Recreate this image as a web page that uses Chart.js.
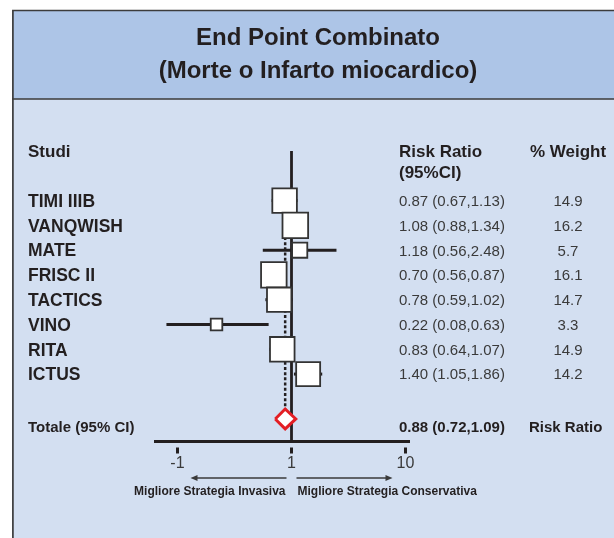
<!DOCTYPE html>
<html>
<head>
<meta charset="utf-8">
<script src="https://cdn.jsdelivr.net/npm/chart.js@4.4.1/dist/chart.umd.min.js"></script>
<style>
  html, body { margin: 0; padding: 0; background: #ffffff; }
  canvas { display: block; }
</style>
</head>
<body>
<canvas id="forest" width="614" height="538"></canvas>
<script>
// Studies in the meta-analysis
const studies   = ['TIMI IIIB', 'VANQWISH', 'MATE', 'FRISC II', 'TACTICS', 'VINO', 'RITA', 'ICTUS'];
const riskRatio = [0.87, 1.08, 1.18, 0.70, 0.78, 0.22, 0.83, 1.40];
const ciLow     = [0.67, 0.88, 0.56, 0.56, 0.59, 0.08, 0.64, 1.05];
const ciHigh    = [1.13, 1.34, 2.48, 0.87, 1.02, 0.63, 1.07, 1.86];
const weights   = [14.9, 16.2, 5.7, 16.1, 14.7, 3.3, 14.9, 14.2];

// Pooled estimate
const pooledRR   = 0.88;
const pooledLow  = 0.72;
const pooledHigh = 1.09;

// Log axis ticks and their printed labels
const axisTicks  = [0.1, 1, 10];
const tickLabels = ['-1', '1', '10'];

// Axis ranges (x in risk ratio, y in row units; rows 0..7 are the studies)
const X_MIN = 0.0635, X_MAX = 10.73;
const Y_TOP = -2, Y_BOTTOM = 9.7;
const HEADER_ROW = -2, SUBHEADER_ROW = -1.15, DIAMOND_ROW = 8.81, TOTAL_ROW = 9.13;

const INK = '#231f20';
const GREY_INK = '#3a3a3a';
const FONT = '"Liberation Sans", Arial, Helvetica, sans-serif';
const X_AXIS_HEIGHT = 44;

const datasets = [];

// Study squares, area scaled with the weight
datasets.push({
  type: 'scatter',
  data: riskRatio.map((v, i) => ({ x: v, y: i })),
  pointStyle: 'rect',
  pointRadius: weights.map(w => 4.5 * Math.sqrt(w)),
  pointHoverRadius: weights.map(w => 4.5 * Math.sqrt(w)),
  backgroundColor: '#ffffff',
  borderColor: '#333333',
  borderWidth: 1.8,
  order: 0
});

// Pooled diamond spanning the pooled confidence interval
datasets.push({
  type: 'line',
  data: [
    { x: pooledLow,  y: DIAMOND_ROW },
    { x: pooledRR,   y: DIAMOND_ROW - 0.4 },
    { x: pooledHigh, y: DIAMOND_ROW },
    { x: pooledRR,   y: DIAMOND_ROW + 0.4 },
    { x: pooledLow,  y: DIAMOND_ROW }
  ],
  fill: 'shape',
  backgroundColor: '#ffffff',
  borderColor: '#e31e24',
  borderWidth: 3,
  borderJoinStyle: 'miter',
  tension: 0,
  pointRadius: 0,
  order: 0
});

// Confidence interval whiskers
studies.forEach((s, i) => {
  datasets.push({
    type: 'line',
    data: [{ x: ciLow[i], y: i }, { x: ciHigh[i], y: i }],
    borderColor: '#231f20',
    borderWidth: 3,
    pointRadius: 0,
    fill: false,
    order: 1
  });
});

// Line of no effect
datasets.push({
  type: 'line',
  data: [{ x: 1, y: Y_TOP }, { x: 1, y: Y_BOTTOM }],
  borderColor: '#231f20',
  borderWidth: 2.8,
  pointRadius: 0,
  fill: false,
  order: 3
});

// Dotted line at the pooled estimate
datasets.push({
  type: 'line',
  data: [{ x: pooledRR, y: 0 }, { x: pooledRR, y: DIAMOND_ROW - 0.4 }],
  borderColor: '#231f20',
  borderWidth: 2.5,
  borderDash: [3, 2.2],
  pointRadius: 0,
  fill: false,
  order: 3
});

function capText(ctx, text, x, yCenter, size, weight, color, align) {
  ctx.font = `${weight} ${size}px ${FONT}`;
  ctx.fillStyle = color;
  ctx.textAlign = align || 'left';
  ctx.textBaseline = 'alphabetic';
  ctx.fillText(text, x, yCenter + 0.358 * size);
}

// Panel: white page, blue title band, light body
const panel = {
  id: 'panel',
  beforeDraw(chart) {
    const ctx = chart.ctx;
    const W = chart.width, H = chart.height;
    ctx.save();
    ctx.fillStyle = '#ffffff';
    ctx.fillRect(0, 0, W, H);
    ctx.fillStyle = '#adc5e7';
    ctx.fillRect(12, 10, W - 12, 89);
    ctx.fillStyle = '#d3dff1';
    ctx.fillRect(12, 99, W - 12, H - 99);
    ctx.strokeStyle = '#3c3c3c';
    ctx.lineWidth = 1.7;
    ctx.beginPath();
    ctx.moveTo(12.9, H);
    ctx.lineTo(12.9, 10.5);
    ctx.lineTo(W, 10.5);
    ctx.moveTo(12, 99);
    ctx.lineTo(W, 99);
    ctx.stroke();

    ctx.font = `bold 24px ${FONT}`;
    ctx.fillStyle = INK;
    ctx.textAlign = 'center';
    ctx.textBaseline = 'alphabetic';
    ctx.fillText('End Point Combinato', 318, 44.5);
    ctx.fillText('(Morte o Infarto miocardico)', 318, 77.5);
    ctx.restore();
  }
};

// Table columns, totals and the direction arrows
const table = {
  id: 'table',
  afterDraw(chart) {
    const ctx = chart.ctx;
    const ys = chart.scales.y;
    const xs = chart.scales.x;
    const ca = chart.chartArea;
    const yp = r => ys.getPixelForValue(r);
    const colLabel = 28, colRR = 399, colW = 568;
    const fmt = v => v.toFixed(2);

    ctx.save();
    capText(ctx, 'Studi', colLabel, yp(HEADER_ROW), 17, 'bold', INK);
    capText(ctx, 'Risk Ratio', colRR, yp(HEADER_ROW), 17, 'bold', INK);
    capText(ctx, '(95%CI)', colRR, yp(SUBHEADER_ROW), 17, 'bold', INK);
    capText(ctx, '% Weight', colW, yp(HEADER_ROW), 17, 'bold', INK, 'center');

    studies.forEach((s, i) => {
      const y = yp(i);
      capText(ctx, s, colLabel, y, 17.5, 'bold', INK);
      capText(ctx, `${fmt(riskRatio[i])} (${fmt(ciLow[i])},${fmt(ciHigh[i])})`, colRR, y, 15, 'normal', GREY_INK);
      capText(ctx, weights[i].toFixed(1), colW, y, 15, 'normal', GREY_INK, 'center');
    });

    const yt = yp(TOTAL_ROW);
    capText(ctx, 'Totale (95% CI)', colLabel, yt, 15, 'bold', INK);
    capText(ctx, `${fmt(pooledRR)} (${fmt(pooledLow)},${fmt(pooledHigh)})`, colRR, yt, 15, 'bold', INK);
    capText(ctx, 'Risk Ratio', 529, yt, 15, 'bold', INK);

    // Arrows under the axis
    const x1 = xs.getPixelForValue(1);
    const ya = ca.bottom + 37;
    ctx.strokeStyle = '#3a3a3a';
    ctx.fillStyle = '#3a3a3a';
    ctx.lineWidth = 1.4;
    const arrow = (from, to) => {
      const dir = Math.sign(to - from);
      ctx.beginPath();
      ctx.moveTo(from, ya);
      ctx.lineTo(to - dir * 5, ya);
      ctx.stroke();
      ctx.beginPath();
      ctx.moveTo(to, ya);
      ctx.lineTo(to - dir * 7, ya - 3);
      ctx.lineTo(to - dir * 7, ya + 3);
      ctx.closePath();
      ctx.fill();
    };
    arrow(x1 - 5, x1 - 101);
    arrow(x1 + 5, x1 + 101);

    const yl = ca.bottom + 51;
    ctx.font = `bold 12px ${FONT}`;
    ctx.fillStyle = INK;
    ctx.textBaseline = 'middle';
    ctx.textAlign = 'right';
    ctx.fillText('Migliore Strategia Invasiva', x1 - 6, yl);
    ctx.textAlign = 'left';
    ctx.fillText('Migliore Strategia Conservativa', x1 + 6, yl);
    ctx.restore();
  }
};

new Chart(document.getElementById('forest'), {
  type: 'scatter',
  data: { datasets },
  options: {
    responsive: false,
    animation: false,
    events: [],
    layout: { padding: { left: 155, right: 205, top: 151, bottom: 538 - 441 - X_AXIS_HEIGHT } },
    plugins: { legend: { display: false }, tooltip: { enabled: false } },
    scales: {
      x: {
        type: 'logarithmic',
        position: 'bottom',
        min: X_MIN,
        max: X_MAX,
        border: { display: true, color: '#231f20', width: 3 },
        grid: {
          display: true,
          drawOnChartArea: false,
          drawTicks: true,
          tickLength: 12.5,
          tickColor: '#231f20',
          tickWidth: 3,
          tickBorderDash: [0, 4.5, 8, 20]
        },
        afterBuildTicks: scale => { scale.ticks = axisTicks.map(v => ({ value: v })); },
        afterFit: scale => { scale.height = X_AXIS_HEIGHT; },
        ticks: {
          autoSkip: false,
          maxRotation: 0,
          padding: 0,
          color: GREY_INK,
          font: { family: FONT, size: 16 },
          callback: (value, index) => tickLabels[index]
        }
      },
      y: {
        type: 'linear',
        min: Y_TOP,
        max: Y_BOTTOM,
        reverse: true,
        display: false
      }
    }
  },
  plugins: [panel, table]
});
</script>
</body>
</html>
